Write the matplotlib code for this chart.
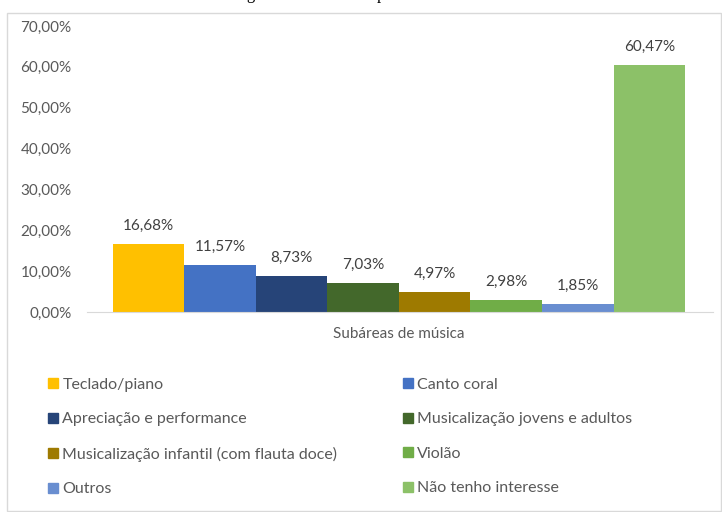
import matplotlib
matplotlib.use("Agg")
import matplotlib.pyplot as plt
import matplotlib.patches as mpatches
import numpy as np

# data
categories = ["Teclado/piano", "Canto coral", "Apreciação e performance",
              "Musicalização jovens e adultos",
              "Musicalização infantil (com flauta doce)", "Violão",
              "Outros", "Não tenho interesse"]
values = [16.68, 11.57, 8.73, 7.03, 4.97, 2.98, 1.85, 60.47]
colors = ["#FFC000", "#4472C4", "#264478", "#43682B",
          "#9E7A00", "#70AD47", "#698ED0", "#8CC168"]
group_label = "Subáreas de música"
yticks = [0, 10, 20, 30, 40, 50, 60, 70]

plt.rcParams['font.family'] = ['Lato', 'DejaVu Sans']
gray = "#595959"

fig = plt.figure(figsize=(7.22, 5.12), dpi=100)
ax = fig.add_axes([87/722, 200/512, 626/722, 286/512])

x = np.arange(len(values))
bars = ax.bar(x, values, width=1.0, color=colors, label=categories)

for xi, v in zip(x, values):
    ax.annotate(f"{v:.2f}%".replace('.', ','), (xi, v), xytext=(0, 8),
                textcoords="offset points", ha="center", va="bottom",
                fontsize=11, color="#404040")

ax.set_xlim(-0.86, 7.89)
ax.set_ylim(0, 70)
ax.set_yticks(yticks)
ax.set_yticklabels([f"{t:.2f}%".replace('.', ',') for t in yticks])
ax.set_xticks([3.5])
ax.set_xticklabels([group_label])
ax.tick_params(axis="both", length=0, labelsize=11, labelcolor=gray)
ax.tick_params(axis="y", pad=11)
ax.tick_params(axis="x", pad=11)
for s in ["top", "right", "left"]:
    ax.spines[s].set_visible(False)
ax.spines["bottom"].set_color("#d9d9d9")

# legend in two columns, row-wise order like the original
handles = [mpatches.Patch(color=c) for c in colors]
for col, xpos in [(0, 40/722), (1, 395/722)]:
    idx = [col, col + 2, col + 4, col + 6]
    leg = fig.legend([handles[i] for i in idx], [categories[i] for i in idx],
                     loc="upper left", bbox_to_anchor=(xpos, 1 - 370/512),
                     frameon=False, fontsize=11.5, handlelength=0.6,
                     handleheight=0.6, handletextpad=0.3, labelspacing=1.28,
                     borderpad=0, labelcolor=gray)

# chart frame
fig.patches.append(mpatches.Rectangle((7/722, 0.002), 714/722, 1 - 13/512 - 0.002,
                                      transform=fig.transFigure, fill=False,
                                      edgecolor="#d9d9d9", linewidth=1))

# caption cut off at the top of the image
fig.text(0.53, 1 + 1/512, "Figura 12 – Interesse por subáreas de música",
         ha="center", va="baseline", fontsize=12, family="Liberation Serif")

fig.savefig("out.png", dpi=100)
